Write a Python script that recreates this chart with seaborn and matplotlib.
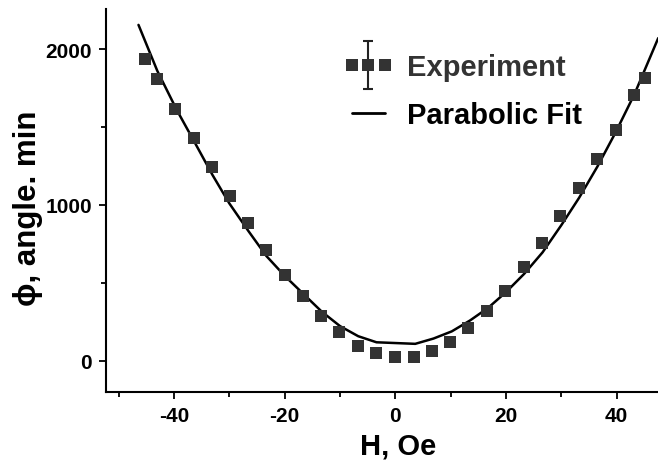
import numpy as np
import pandas as pd
import matplotlib
matplotlib.use("Agg")
import matplotlib.pyplot as plt
import seaborn as sns
from matplotlib.lines import Line2D
from matplotlib.path import Path
from matplotlib.legend_handler import HandlerLine2D, HandlerTuple
from matplotlib.ticker import MultipleLocator

# ---- data ----
exp_h = [-45.3, -43.1, -39.8, -36.4, -33.1, -29.8, -26.6, -23.3, -19.9, -16.7,
         -13.4, -10.1, -6.8, -3.4, 0.0, 3.3, 6.6, 9.9, 13.2, 16.5, 19.9, 23.2,
         26.5, 29.8, 33.1, 36.4, 39.8, 43.1, 45.2]
exp_phi = [1936, 1808, 1616, 1431, 1245, 1059, 882, 712, 552, 413,
           285, 186, 96, 47, 22, 26, 60, 122, 208, 317, 447, 600,
           754, 931, 1108, 1295, 1481, 1706, 1816]

fit_h = [-46.4, -43.0, -39.5, -36.0, -33.0, -30.0, -26.5, -23.3, -20.0, -16.6,
         -13.3, -10.0, -6.7, -3.4, 3.6, 6.9, 10.2, 13.5, 16.8, 20.0, 23.3,
         26.6, 30.0, 33.2, 36.5, 39.8, 43.2, 47.5]
fit_phi = [2155, 1860, 1610, 1385, 1190, 1010, 830, 672, 545, 428,
           315, 222, 157, 118, 108, 142, 188, 258, 340, 440, 558,
           695, 870, 1045, 1245, 1465, 1710, 2070]

x_label = "H, Oe"
y_label = "\u03d5, angle. min"
legend_labels = ["Experiment", "Parabolic Fit"]

exp_df = pd.DataFrame({"H": exp_h, "phi": exp_phi})
fit_df = pd.DataFrame({"H": fit_h, "phi": fit_phi})

sns.set_theme(style="ticks")
plt.rcParams["font.family"] = ["Liberation Sans", "DejaVu Sans"]
plt.rcParams["font.weight"] = "bold"
plt.rcParams["axes.unicode_minus"] = False

fig = plt.figure(figsize=(6.58, 4.64), dpi=100)
ax = fig.add_axes([106 / 658, 1 - 393.3 / 464, 552 / 658, 383.3 / 464])

marker_color = "#333333"
sns.lineplot(data=fit_df, x="H", y="phi", ax=ax, color="black", linewidth=1.8,
             sort=False, estimator=None, legend=False)
sns.scatterplot(data=exp_df, x="H", y="phi", ax=ax, marker="s", s=80,
                color=marker_color, linewidth=0, legend=False, zorder=3)

ax.set_xlim(-52.27, 47.46)
ax.set_ylim(-203, 2257)

ax.xaxis.set_major_locator(MultipleLocator(20))
ax.xaxis.set_minor_locator(MultipleLocator(10))
ax.yaxis.set_major_locator(MultipleLocator(1000))
ax.yaxis.set_minor_locator(MultipleLocator(500))

for side in ["top", "right"]:
    ax.spines[side].set_visible(False)
for side in ["left", "bottom"]:
    ax.spines[side].set_linewidth(1.5)
    ax.spines[side].set_color("black")

ax.tick_params(axis="both", which="major", direction="out", length=5, width=1.3,
               color="black", labelsize=15, pad=5, labelcolor="black")
ax.tick_params(axis="both", which="minor", direction="out", length=3.3, width=1.3,
               color="black")
for lab in ax.get_xticklabels() + ax.get_yticklabels():
    lab.set_fontweight("bold")

ax.set_xlabel(x_label, fontsize=21, fontweight="bold", color="black")
ax.set_ylabel(y_label, fontsize=22.5, fontweight="bold", color="black")
ax.xaxis.set_label_coords(0.529, -0.101)
ax.yaxis.set_label_coords(-0.115, 0.484)

# legend proxies: three squares, an error bar (I-shaped marker) on the middle one
ibar_path = Path(
    [(0, -1), (0, 1), (-0.2, -1), (0.2, -1), (-0.2, 1), (0.2, 1)],
    [Path.MOVETO, Path.LINETO, Path.MOVETO, Path.LINETO, Path.MOVETO, Path.LINETO],
)
ibar = Line2D([], [], marker=ibar_path, linestyle="none", markersize=34,
              markerfacecolor="none", markeredgecolor="#222222",
              markeredgewidth=1.5)
sq = Line2D([], [], marker="s", linestyle="none", color=marker_color,
            markersize=8, markeredgewidth=0)
fit_handle = Line2D([], [], color="black", linewidth=2.0)

leg = ax.legend(
    [(ibar, sq), fit_handle], legend_labels,
    handler_map={
        ibar: HandlerLine2D(numpoints=1),
        Line2D: HandlerLine2D(numpoints=3, marker_pad=0.16),
        tuple: HandlerTuple(ndivide=1),
    },
    loc="upper left", bbox_to_anchor=(347 / 658, 1 - 54 / 464),
    bbox_transform=fig.transFigure, frameon=False,
    prop={"size": 21, "weight": "bold"},
    handlelength=1.45, handletextpad=0.62, labelspacing=0.7,
    borderpad=0, borderaxespad=0,
)
leg.get_texts()[0].set_color("#333333")
leg.get_texts()[1].set_color("black")

fig.savefig("out.png", dpi=100, facecolor="white")
